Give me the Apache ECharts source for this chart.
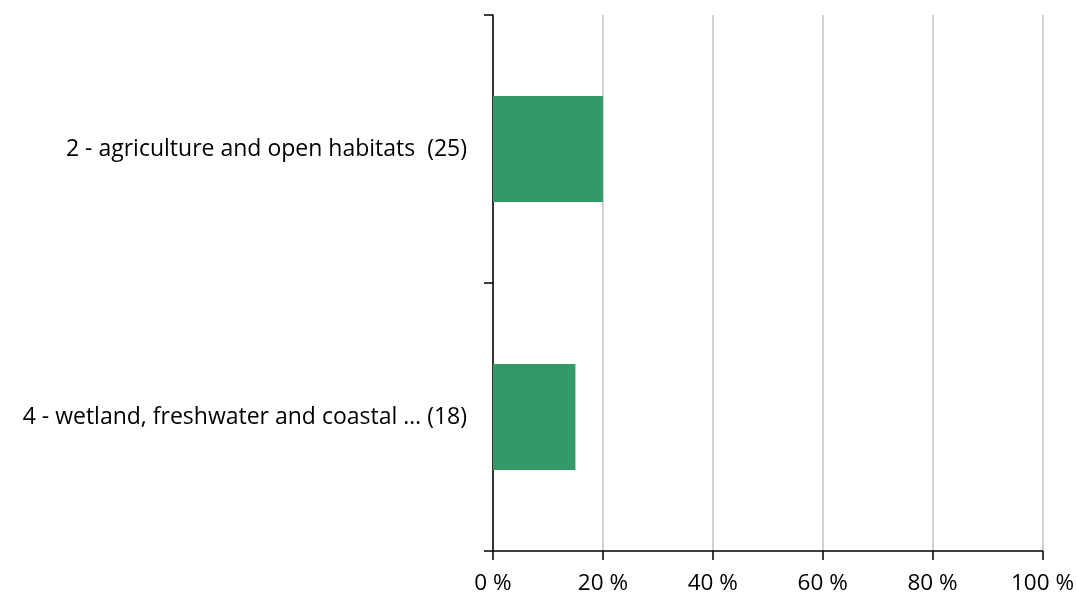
<!DOCTYPE html>
<html>
<head>
<meta charset="utf-8">
<script src="https://cdn.jsdelivr.net/npm/echarts@6/dist/echarts.min.js"></script>
<style>
  html, body { margin: 0; padding: 0; background: #ffffff; }
  #chart { width: 1077px; height: 599px; }
</style>
</head>
<body>
<div id="chart"></div>
<script>
// Habitat groups with number of species in brackets
const categories = [
  '2 - agriculture and open habitats  (25)',
  '4 - wetland, freshwater and coastal \u2026 (18)'
];
// Share of species per group, in percent
const shares = [20, 15];
// Percent tick labels on the value axis
const tickValues = [0, 20, 40, 60, 80, 100];

const FONT = '"Open Sans", "Liberation Sans", sans-serif';

const chart = echarts.init(document.getElementById('chart'), null, { renderer: 'canvas' });
chart.setOption({
  animation: false,
  backgroundColor: '#ffffff',
  grid: { left: 493, right: 34, top: 15, bottom: 48, containLabel: false },
  xAxis: {
    type: 'value',
    min: tickValues[0],
    max: tickValues[tickValues.length - 1],
    interval: 20,
    axisLine: { show: true, lineStyle: { color: '#000000', width: 1.5 } },
    axisTick: { show: true, length: 9, lineStyle: { color: '#000000', width: 1.5 } },
    splitLine: { show: true, lineStyle: { color: '#c0c0c0', width: 1.5 } },
    axisLabel: {
      margin: 21,
      color: '#000000',
      fontFamily: FONT,
      fontSize: 22.5,
      formatter: v => v + ' %'
    }
  },
  yAxis: {
    type: 'category',
    inverse: true,
    data: categories,
    axisLine: { show: true, lineStyle: { color: '#000000', width: 1.5 } },
    axisTick: { show: true, length: 9, lineStyle: { color: '#000000', width: 1.5 } },
    axisLabel: {
      margin: 26,
      color: '#000000',
      fontFamily: FONT,
      fontSize: 23,
      padding: [4, 0, 0, 0]
    }
  },
  series: [{
    type: 'bar',
    data: shares,
    barWidth: '39.5%',
    itemStyle: { color: '#339966' }
  }]
});
</script>
</body>
</html>
